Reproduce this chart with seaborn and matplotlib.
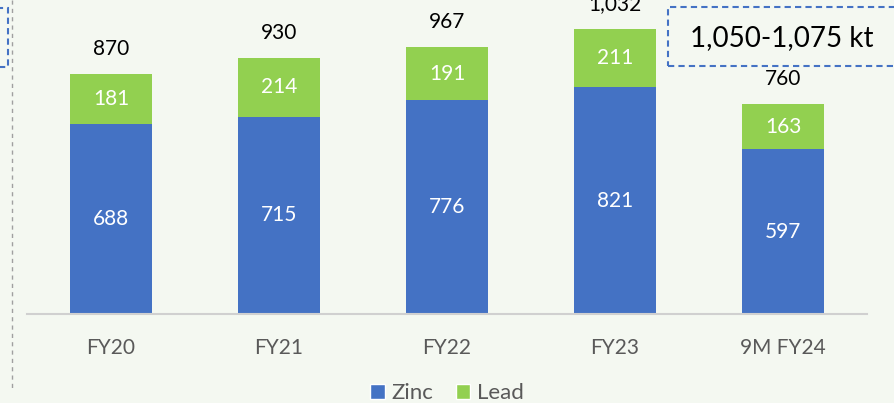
import matplotlib
matplotlib.use("Agg")
import matplotlib.pyplot as plt
import seaborn as sns
from matplotlib.patches import Patch, Rectangle
from matplotlib.lines import Line2D

categories = ["FY20", "FY21", "FY22", "FY23", "9M FY24"]
zinc = [688, 715, 776, 821, 597]
lead = [181, 214, 191, 211, 163]
totals = [870, 930, 967, 1032, 760]
guidance_text = "1,050-1,075 kt"

BLUE = "#4472C4"
GREEN = "#92D050"
BG = "#f4f8f1"
GREY_TXT = "#595959"
AXIS = "#d0d0d0"

sns.set_theme(style="white")
plt.rcParams["font.family"] = ["Lato", "DejaVu Sans"]

W, H = 894, 403
fig = plt.figure(figsize=(W / 100, H / 100), dpi=100)
fig.patch.set_facecolor(BG)

# axes placement in pixels
left_px, right_px = 27, 867
base_px = 314
ax = fig.add_axes([left_px / W, (H - base_px) / H, (right_px - left_px) / W, base_px / H])
ax.set_facecolor(BG)

stack = [z + l for z, l in zip(zinc, lead)]
sns.barplot(x=categories, y=stack, color=GREEN, width=0.49, saturation=1, ax=ax,
            linewidth=0, edgecolor="none")
sns.barplot(x=categories, y=zinc, color=BLUE, width=0.49, saturation=1, ax=ax,
            linewidth=0, edgecolor="none")

ax.set_xlim(-0.5, len(categories) - 0.5)
ax.set_ylim(0, base_px / 0.2759)

for s in ["top", "right", "left"]:
    ax.spines[s].set_visible(False)
ax.spines["bottom"].set_color(AXIS)
ax.spines["bottom"].set_linewidth(1.5)
ax.set_yticks([])
ax.set_ylabel("")
ax.set_xticks(range(len(categories)))
ax.set_xticklabels(categories, fontsize=15, color=GREY_TXT)
ax.tick_params(axis="x", which="major", length=0, pad=17)
ax.set_xticks([i - 0.5 for i in range(len(categories) + 1)], minor=True)
ax.tick_params(axis="x", which="minor", length=7, color=AXIS, width=1.5)

for i in range(len(categories)):
    ax.text(i, zinc[i] / 2, f"{zinc[i]}", ha="center", va="center", color="white", fontsize=15)
    ax.text(i, zinc[i] + lead[i] / 2, f"{lead[i]}", ha="center", va="center", color="white", fontsize=15)
    ax.annotate(f"{totals[i]:,}", xy=(i, stack[i]), xytext=(0, 18), textcoords="offset points",
                ha="center", va="center", color="black", fontsize=15, annotation_clip=False)

# legend
handles = [Patch(facecolor=BLUE, label="Zinc"), Patch(facecolor=GREEN, label="Lead")]
fig.legend(handles=handles, loc="center", bbox_to_anchor=(0.5, 10 / H), ncol=2, frameon=False,
           fontsize=16, labelcolor=GREY_TXT, handlelength=0.65, handleheight=0.65,
           handletextpad=0.3, columnspacing=1.0)

def fx(px):
    return px / W

def fy(py):
    return (H - py) / H

# guidance dashed box (top right)
fig.patches.append(Rectangle((fx(668), fy(66)), fx(240), (66 - 7) / H, transform=fig.transFigure,
                             fill=False, edgecolor=BLUE, linestyle=(0, (3, 2)), linewidth=1.5))
fig.text(fx(782), fy(38), guidance_text, ha="center", va="center", fontsize=20, color="black")

# left decorations
fig.patches.append(Rectangle((fx(-20), fy(67)), fx(28), (67 - 8) / H, transform=fig.transFigure,
                             fill=False, edgecolor=BLUE, linestyle=(0, (3, 2)), linewidth=1.5))
fig.lines.append(Line2D([fx(12), fx(12)], [fy(0), fy(389)], transform=fig.transFigure,
                        color="#a0a0a0", linestyle=(0, (3, 3)), linewidth=1))

fig.savefig("out.png", dpi=100, facecolor=BG)
